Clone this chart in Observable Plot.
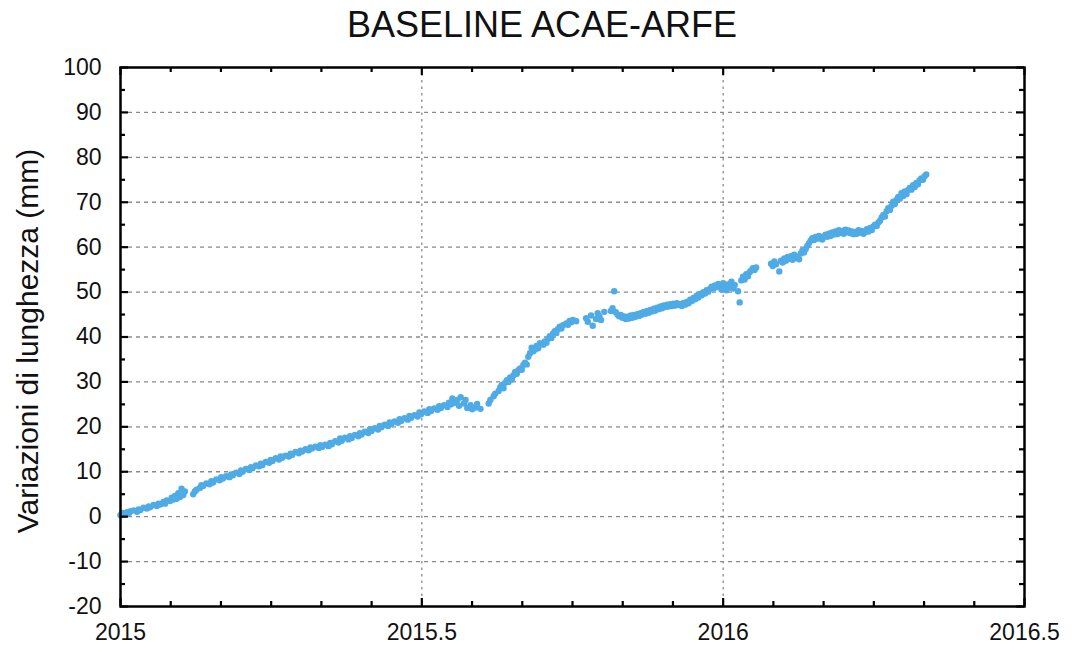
<!DOCTYPE html>
<html>
<head>
<meta charset="utf-8">
<script src="https://cdn.jsdelivr.net/npm/d3@7"></script>
<script src="https://cdn.jsdelivr.net/npm/@observablehq/plot@0.6"></script>
<style>
  html, body { margin: 0; padding: 0; background: #fff; }
  #wrap { position: relative; width: 1074px; height: 653px; font-family: Arial, "Liberation Sans", sans-serif; }
  #title { position: absolute; z-index: 2; top: 7px; left: 542px; transform: translateX(-50%); font-size: 36px; line-height: 36px; color: #111; white-space: nowrap; }
  #chart { position: absolute; z-index: 1; left: 0; top: 0; }
</style>
</head>
<body>
<div id="wrap">
  <div id="title"></div>
  <div id="chart"></div>
</div>
<script>
const title = "BASELINE ACAE-ARFE";
const yLabel = "Variazioni di lunghezza (mm)";
const xStartYear = 2015;
const xTicks = [2015, 2015.5, 2016, 2016.5];
const xTickLabels = ["2015", "2015.5", "2016", "2016.5"];
const xMinorTicks = [2015+1/12, 2015+2/12, 2015+3/12, 2015+4/12, 2015+5/12, 2015+7/12, 2015+8/12, 2015+9/12, 2015+10/12, 2015+11/12, 2016+1/12, 2016+2/12, 2016+3/12, 2016+4/12, 2016+5/12];
const yTicks = [-20, -10, 0, 10, 20, 30, 40, 50, 60, 70, 80, 90, 100];
const yTickLabels = ["-20", "-10", "0", "10", "20", "30", "40", "50", "60", "70", "80", "90", "100"];
const yMinorTicks = [-15, -5, 5, 15, 25, 35, 45, 55, 65, 75, 85, 95];
const yGrid = [-10, 0, 10, 20, 30, 40, 50, 60, 70, 80, 90];
const xGrid = [2015.5, 2016];

// observations: [days since 2015-01-01, length variation in mm]
const segmentJanFeb = [[0,0.3],[1,0.8],[2,0.5],[4,1.0],[5,0.7],[6,1.2],[8,1.4],[10,1.1],[11,1.6],[12,1.5],[14,2.0],[16,1.8],[17,2.3],[18,2.1],[20,2.6],[22,2.4],[23,2.9],[24,2.7],[26,3.3],[27,2.9],[28,3.6],[30,3.5],[31,4.2],[32,3.8],[33,4.6],[34,4.0],[35,5.2],[36,4.4],[37,6.2],[38,4.8],[39,5.6]];
const segmentSpring = [[44,5.0],[45,5.6],[46,6.0],[48,6.4],[49,7.0],[50,6.8],[52,7.4],[54,7.2],[55,7.9],[56,7.6],[58,8.3],[60,8.1],[61,8.8],[62,8.5],[64,9.0],[66,8.8],[67,9.4],[68,9.2],[70,9.8],[72,9.5],[73,10.3],[74,10.0],[76,10.6],[78,10.4],[79,11.0],[80,10.8],[82,11.4],[84,11.2],[85,11.8],[86,11.5],[88,12.2],[90,12.0],[91,12.6],[92,12.4],[94,13.0],[96,12.7],[97,13.4],[98,13.1],[100,13.6],[102,13.4],[103,14.0],[104,13.8],[106,14.4],[108,14.1],[109,14.7],[110,14.5],[112,15.0],[114,14.8],[115,15.4],[116,15.2],[118,15.6],[120,15.3],[121,15.9],[122,15.5],[124,16.0],[126,15.7],[127,16.4],[128,16.1],[130,16.8],[132,16.5],[133,17.4],[134,16.9],[136,17.6],[138,17.2],[139,17.9],[140,17.5],[142,18.2],[144,17.9],[145,18.6],[146,18.3],[148,18.9],[150,18.6],[151,19.4],[152,19.1],[154,19.7],[156,19.4],[157,20.2],[158,19.9],[160,20.5],[162,20.2],[163,21.0],[164,20.6],[166,21.2],[168,20.9],[169,21.7],[170,21.3],[172,21.9],[174,21.6],[175,22.4],[176,22.0],[178,22.6],[180,22.3],[181,23.2],[182,22.8],[184,23.4],[186,23.1],[187,23.9],[188,23.5],[190,24.1],[192,23.8],[193,24.6],[194,24.2],[196,24.8],[198,24.4],[199,25.4],[200,25.0],[201,26.3],[202,25.3],[204,26.0],[205,24.7],[206,26.6],[208,25.2],[209,26.0],[210,24.2]];
const segmentSummer = [[212,24.8],[213,23.9],[215,24.3],[216,25.1],[218,24.0],[223,25.2],[224,26.0],[226,26.8],[227,27.4],[229,28.0],[230,28.8],[231,29.3],[232,28.6],[233,29.8],[234,30.4],[235,30.0],[236,31.0],[237,30.6],[238,31.5],[239,32.2],[240,31.8],[241,32.6],[242,33.0],[243,32.7],[244,33.8],[245,34.3],[246,33.9],[247,35.6],[248,36.4],[249,37.6],[250,36.8],[251,37.2],[252,38.0],[253,37.5],[254,38.6],[256,38.3],[257,39.0],[258,38.7],[259,39.6],[260,40.2],[261,39.8],[262,40.8],[263,41.3],[264,40.9],[265,41.8],[266,42.3],[267,41.9],[268,42.6],[270,43.0],[271,42.7],[272,43.6],[273,43.3],[274,43.8],[276,43.5]];
const segmentAutumn = [[282,44.2],[283,43.4],[285,44.8],[286,42.5],[288,44.0],[289,45.3],[290,44.6],[291,43.8],[293,45.6],[297,45.8],[298,46.4],[299,50.2],[300,45.5],[301,45.0],[302,44.6],[303,44.9],[304,44.3],[305,44.6],[306,44.0],[307,44.5],[308,44.1],[309,44.8],[310,44.3],[311,44.9],[312,44.5],[313,45.1],[314,44.7],[315,45.3],[316,45.0],[317,45.6],[318,45.2],[319,45.8],[320,45.4],[321,46.0],[322,45.7],[323,46.3],[324,45.9],[325,46.5],[326,46.2],[327,46.8],[328,46.4],[329,47.0],[330,46.7],[331,47.2],[332,46.8],[333,47.3],[334,46.9],[335,47.4],[336,47.0],[337,47.5],[338,47.1],[339,47.3],[340,46.9],[341,47.6],[342,47.2],[343,47.8],[344,47.5],[345,48.3],[346,48.0],[347,48.7],[348,48.4],[349,49.2],[350,48.8],[351,49.6],[352,49.3],[353,50.0],[354,49.7],[355,50.4],[356,50.1],[357,50.7],[358,51.2],[359,50.8],[360,51.5],[361,51.1],[362,51.8],[363,51.4],[364,50.6]];
const segmentWinter = [[365,52.0],[366,51.2],[367,50.4],[368,51.7],[369,51.0],[370,52.3],[371,50.8],[372,51.6],[374,50.2],[375,47.7],[376,52.6],[377,53.4],[378,52.8],[379,54.0],[380,53.5],[381,54.4],[382,54.8],[383,55.3],[384,54.9],[385,55.5],[394,56.3],[395,55.8],[396,56.8],[397,56.2],[399,54.6],[400,57.0],[401,56.6],[402,57.5],[403,57.0],[404,57.8],[405,57.4],[406,58.0],[407,57.2],[408,58.3],[409,57.6],[410,57.9],[411,57.3],[412,58.6],[413,59.2],[414,58.8],[415,59.6],[416,60.3],[417,60.9],[418,61.5],[419,62.0],[420,61.6],[421,62.3],[422,61.9],[423,62.5],[424,62.0],[425,61.7],[426,62.4],[427,62.8],[428,62.3],[429,63.0],[430,62.5],[431,63.3],[432,62.8],[433,63.5],[434,62.9],[435,63.8],[436,63.2],[437,63.6],[438,63.0],[439,63.9],[440,63.3],[441,63.7],[442,63.1],[443,63.5],[444,62.9],[445,63.4],[446,63.0],[447,63.8],[448,63.2],[449,63.6],[450,63.0],[451,63.4],[452,64.0],[453,63.5],[454,64.3],[455,63.8],[456,64.6],[457,65.0],[458,64.7],[459,65.5],[460,65.9],[461,66.6],[462,67.2],[463,66.8],[464,68.0],[465,68.7],[466,68.3],[467,69.2],[468,70.1],[469,69.6],[470,70.5],[471,71.2],[472,70.8],[473,72.0],[474,71.4],[475,72.4],[476,71.8],[477,72.7],[478,73.2],[479,72.8],[480,73.8],[481,73.4],[482,74.3],[483,74.0],[484,74.9],[485,75.3],[486,75.0],[487,75.8],[488,76.2]];

const observations = [...segmentJanFeb, ...segmentSpring, ...segmentSummer, ...segmentAutumn, ...segmentWinter]
  .map(([d, v]) => ({t: xStartYear + d / 365, v}));

const W = 1074, H = 653;
const mL = 120, mR = 50, mT = 67, mB = 47;
const fw = W - mL - mR, fh = H - mT - mB;
const majorLen = 8, minorLen = 5;

const chart = Plot.plot({
  width: W,
  height: H,
  marginLeft: mL,
  marginRight: mR,
  marginTop: mT,
  marginBottom: mB,
  style: {fontFamily: "Arial, 'Liberation Sans', sans-serif", background: "transparent", color: "#111"},
  x: {domain: [2015, 2016.5]},
  y: {domain: [-20, 100]},
  marks: [
    Plot.ruleY(yGrid, {stroke: "#8a8a8a", strokeWidth: 1.3, strokeDasharray: "4,4"}),
    Plot.ruleX(xGrid, {stroke: "#8a8a8a", strokeWidth: 1.3, strokeDasharray: "2.5,4"}),
    Plot.dot(observations, {x: "t", y: "v", r: 3.2, fill: "#4eabe6", stroke: "none"}),
    // inward ticks on all four sides
    Plot.tickY(yTicks, {y: d => d, insetRight: fw - majorLen, stroke: "#000", strokeWidth: 2.2}),
    Plot.tickY(yMinorTicks, {y: d => d, insetRight: fw - minorLen, stroke: "#000", strokeWidth: 2.2}),
    Plot.tickY(yTicks, {y: d => d, insetLeft: fw - majorLen, stroke: "#000", strokeWidth: 2.2}),
    Plot.tickY(yMinorTicks, {y: d => d, insetLeft: fw - minorLen, stroke: "#000", strokeWidth: 2.2}),
    Plot.tickX(xTicks, {x: d => d, insetTop: fh - majorLen, stroke: "#000", strokeWidth: 2.2}),
    Plot.tickX(xMinorTicks, {x: d => d, insetTop: fh - minorLen, stroke: "#000", strokeWidth: 2.2}),
    Plot.tickX(xTicks, {x: d => d, insetBottom: fh - majorLen, stroke: "#000", strokeWidth: 2.2}),
    Plot.tickX(xMinorTicks, {x: d => d, insetBottom: fh - minorLen, stroke: "#000", strokeWidth: 2.2}),
    Plot.frame({stroke: "#000", strokeWidth: 2.5}),
    Plot.axisX(xTicks, {tickSize: 0, tickPadding: 17, fontSize: 23, fill: "#111",
      tickFormat: d => xTickLabels[xTicks.indexOf(d)], label: null}),
    Plot.axisY(yTicks, {tickSize: 0, tickPadding: 19, fontSize: 23, fill: "#111", label: null,
      tickFormat: d => yTickLabels[yTicks.indexOf(d)]}),
    Plot.text([yLabel], {text: d => d, frameAnchor: "left", textAnchor: "middle", dx: -92, dy: 4, rotate: -90, fontSize: 30, fill: "#111"})
  ]
});
document.getElementById("chart").appendChild(chart);
document.getElementById("title").textContent = title;
</script>
</body>
</html>
